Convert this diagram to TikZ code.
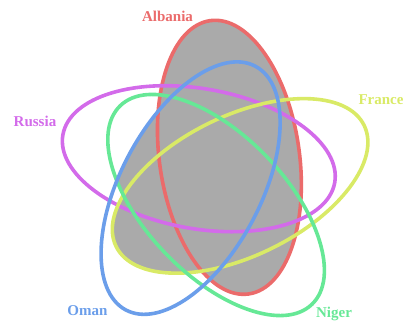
\documentclass[tikz,border=0pt]{standalone}
\usepackage{xcolor}
\usepackage{fontspec}
\setmainfont{Liberation Serif}
\usepackage{tikz}
\usetikzlibrary{positioning}
\definecolor{albaniared}{HTML}{EB6B6B}
\definecolor{russiapurple}{HTML}{D36BEA}
\definecolor{omanblue}{HTML}{6B9EEA}
\definecolor{nigergreen}{HTML}{66E896}
\definecolor{franceyellow}{HTML}{D9EA66}
\definecolor{regiongray}{HTML}{AAAAAA}
\newcommand{\albaniaellipse}{(229.4,167.7) ellipse [x radius=138, y radius=70, rotate=98]}
\newcommand{\russiaellipse}{(198.8,166.3) ellipse [x radius=138, y radius=70, rotate=170]}
\newcommand{\omanellipse}{(190.6,136.9) ellipse [x radius=138, y radius=70, rotate=62]}
\newcommand{\nigerellipse}{(216.1,120.0) ellipse [x radius=138, y radius=70, rotate=134]}
\newcommand{\franceellipse}{(240.1,139.1) ellipse [x radius=138, y radius=70, rotate=26]}

\begin{document}
\begin{tikzpicture}[x=1pt, y=1pt,
    setline/.style={line width=3.6pt},
    setlabel/.style={font=\fontsize{15}{18}\selectfont\bfseries}]
    \useasboundingbox (0,0) rectangle (404,325);

    % shaded region
    \fill[regiongray] \albaniaellipse;
    \begin{scope}
        \clip \omanellipse;
        \fill[regiongray] \franceellipse;
    \end{scope}
    \begin{scope}
        \clip \omanellipse;
        \clip \russiaellipse;
        \fill[regiongray] \nigerellipse;
    \end{scope}

    % set outlines
    \draw[setline, albaniared] \albaniaellipse;
    \draw[setline, russiapurple] \russiaellipse;
    \draw[setline, franceyellow] \franceellipse;
    \draw[setline, nigergreen] \nigerellipse;
    \draw[setline, omanblue] \omanellipse;

    \node[setlabel, text=albaniared] (albania) at (167.5,309) {Albania};
    \node[setlabel, text=russiapurple] (russia) at (35,204) {Russia};
    \node[setlabel, text=franceyellow] (france) at (381,225) {France};
    \node[setlabel, text=omanblue] (oman) at (87.5,14) {Oman};
    \node[setlabel, text=nigergreen] (niger) at (334,11.5) {Niger};
\end{tikzpicture}
\end{document}
